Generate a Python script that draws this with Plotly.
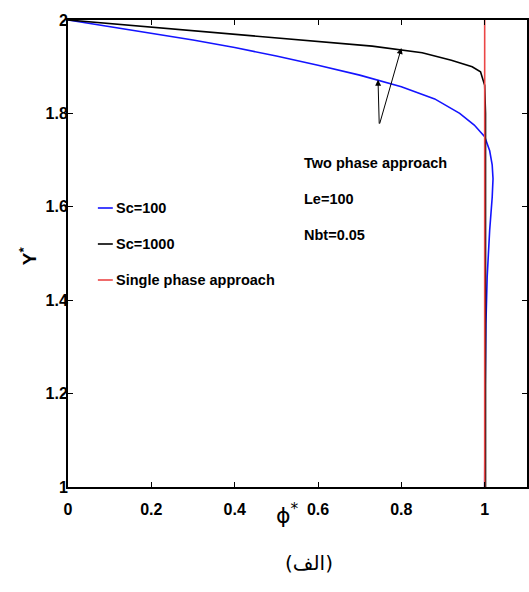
import plotly.graph_objects as go

# Concentration profiles phi* versus height Y*
sc100_phi = [0, 0.1, 0.2, 0.3, 0.4, 0.5, 0.6, 0.7, 0.8, 0.88, 0.94, 0.975, 1.0,
             1.012, 1.018, 1.02, 1.018, 1.012, 1.006, 1.003, 1.001, 1.0]
sc100_y = [2, 1.986, 1.972, 1.957, 1.941, 1.923, 1.903, 1.882, 1.857, 1.831, 1.80,
           1.775, 1.75, 1.72, 1.69, 1.66, 1.62, 1.55, 1.45, 1.35, 1.2, 1.0]

sc1000_phi = [0, 0.2, 0.4, 0.6, 0.73, 0.85, 0.92, 0.97, 0.99, 1.0, 1.002, 1.002]
sc1000_y = [2, 1.985, 1.97, 1.955, 1.944, 1.93, 1.914, 1.90, 1.889, 1.86, 1.8, 1.0]

single_phi = [1, 1]
single_y = [1, 2]

x_ticks = [0, 0.2, 0.4, 0.6, 0.8, 1]
y_ticks = [1, 1.2, 1.4, 1.6, 1.8, 2]

series_names = ["Sc=100", "Sc=1000", "Single phase approach"]
series_colors = ["rgb(20,20,255)", "black", "rgb(235,70,70)"]
note_lines = ["Two phase approach", "Le=100", "Nbt=0.05"]

FONT = "Liberation Sans Narrow, Arial Narrow, Liberation Sans, Arial, sans-serif"
TEXT_SIZE = 14.5
TICK_SIZE = 16

W, H = 529, 592
L, R, T, B = 68, 0, 20, 105
PW, PH = W - L - R, H - T - B
X_PER_UNIT = 418.5


def px_to_paper(px, py):
    return (px - L) / PW, (H - B - py) / PH


fig = go.Figure()
for xs, ys, name, col in [(sc100_phi, sc100_y, series_names[0], series_colors[0]),
                          (sc1000_phi, sc1000_y, series_names[1], series_colors[1]),
                          (single_phi, single_y, series_names[2], series_colors[2])]:
    fig.add_trace(go.Scatter(x=xs, y=ys, mode="lines", name=name,
                             line=dict(color=col, width=1.6), showlegend=False))

shapes = []
annotations = []

# hand-drawn style legend
for i, (name, col) in enumerate(zip(series_names, series_colors)):
    cy = [208, 244, 280][i]
    x0, y0 = px_to_paper(98, cy)
    x1, _ = px_to_paper(113, cy)
    shapes.append(dict(type="line", xref="paper", yref="paper", x0=x0, x1=x1,
                       y0=y0, y1=y0, line=dict(color=col, width=1.6)))
    tx, _ = px_to_paper(114, cy)
    annotations.append(dict(xref="paper", yref="paper", x=tx, y=y0, text=name,
                            showarrow=False, xanchor="left", yanchor="middle",
                            font=dict(family=FONT, size=TEXT_SIZE, color="black",
                                      weight="bold")))

# parameter note
for i, line in enumerate(note_lines):
    cy = [163, 199, 235][i]
    tx, ty = px_to_paper(303, cy)
    annotations.append(dict(xref="paper", yref="paper", x=tx, y=ty, text=line,
                            showarrow=False, xanchor="left", yanchor="middle",
                            font=dict(family=FONT, size=TEXT_SIZE, color="black",
                                      weight="bold")))

# arrows pointing to the two curves
tail = (0.747, 1.775)
for head in [(0.80, 1.94), (0.744, 1.872)]:
    annotations.append(dict(x=head[0], y=head[1], ax=tail[0], ay=tail[1],
                            xref="x", yref="y", axref="x", ayref="y", text="",
                            showarrow=True, arrowhead=2, arrowsize=1.2,
                            arrowwidth=1, arrowcolor="black"))

# axis titles
ax_x, ax_y = px_to_paper(288, 530)
annotations.append(dict(xref="paper", yref="paper", x=ax_x, y=ax_y,
                        text="ϕ<sup>*</sup>", showarrow=False,
                        font=dict(family="DejaVu Sans", size=22, color="black")))
ay_x, ay_y = px_to_paper(14, 256)
annotations.append(dict(xref="paper", yref="paper", x=ay_x, y=ay_y,
                        text="Y<sup>*</sup>", showarrow=False, textangle=-90,
                        font=dict(family=FONT, size=19, color="black", weight="bold")))

# caption
cx, cy2 = px_to_paper(310, 577)
annotations.append(dict(xref="paper", yref="paper", x=cx, y=cy2, text="(الف)",
                        showarrow=False,
                        font=dict(family="DejaVu Sans", size=20, color="black")))

fig.update_layout(
    width=W, height=H,
    margin=dict(l=L, r=R, t=T, b=B),
    paper_bgcolor="white", plot_bgcolor="white",
    shapes=shapes, annotations=annotations,
    showlegend=False,
)
fig.update_xaxes(range=[0, PW / X_PER_UNIT], tickvals=x_ticks,
                 ticktext=[f"{v:g}" for v in x_ticks],
                 ticks="inside", ticklen=5, tickwidth=1, tickcolor="black",
                 showline=True, linecolor="black", linewidth=2, mirror="allticks",
                 showgrid=False, zeroline=False, ticklabelstandoff=7,
                 tickfont=dict(family=FONT, size=TICK_SIZE, color="black", weight="bold"))
fig.update_yaxes(range=[1, 2], tickvals=y_ticks,
                 ticktext=[f"{v:g}" for v in y_ticks],
                 ticks="inside", ticklen=5, tickwidth=1, tickcolor="black",
                 showline=True, linecolor="black", linewidth=2, mirror="ticks",
                 showgrid=False, zeroline=False, ticklabelstandoff=-5,
                 tickfont=dict(family=FONT, size=TICK_SIZE, color="black", weight="bold"))

fig.write_html("out.html")
